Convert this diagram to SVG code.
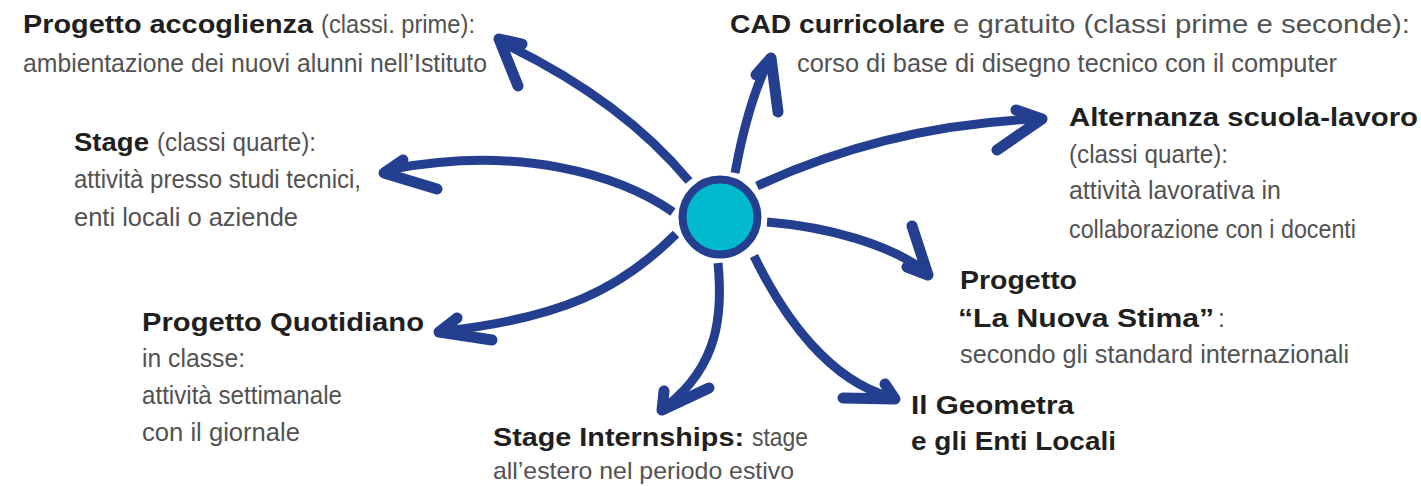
<svg xmlns="http://www.w3.org/2000/svg" width="1421" height="486" viewBox="0 0 1421 486">
<style>
.b{font-family:"Liberation Sans",Arial,sans-serif;font-weight:bold;font-size:26px;fill:#1f1f1f}
.r{font-family:"Liberation Sans",Arial,sans-serif;font-size:25px;fill:#525252}
.shaft{fill:none;stroke:#243f8f;stroke-width:9;stroke-linecap:butt}
.head{fill:none;stroke:#243f8f;stroke-width:11;stroke-linecap:round;stroke-linejoin:round}
</style>
<rect width="1421" height="486" fill="#ffffff"/>
<g id="connectors">
<path class="shaft" d="M689,181 C655,140 600,90 505,44"/>
<path class="head" d="M522,44 L499,39 L518,86"/>
<path class="shaft" d="M673,212 C620,175 520,145 393,169"/>
<path class="head" d="M403,160 L384,173 L437,189"/>
<path class="shaft" d="M735,173 C742,135 752,95 768,62"/>
<path class="head" d="M756,75 L771,58 L778,112"/>
<path class="shaft" d="M757,186 C830,152 920,124 1036,119"/>
<path class="head" d="M1016,110 L1042,119 L997,150"/>
<path class="shaft" d="M767,222 C830,227 890,245 925,271"/>
<path class="head" d="M912,226 L928,275 L907,267"/>
<path class="shaft" d="M754,256 C785,320 830,380 890,397"/>
<path class="head" d="M885,384 L895,399 L843,398"/>
<path class="shaft" d="M718,263 C723,315 718,365 668,405"/>
<path class="head" d="M664,391 L662,410 L709,388"/>
<path class="shaft" d="M676,234 C620,290 560,318 445,331"/>
<path class="head" d="M457,318 L439,332 L492,340"/>
</g>
<g id="center">
<circle cx="720" cy="217" r="37.5" fill="#00b9cc" stroke="#243f8f" stroke-width="8"/>
</g>
<g id="node-accoglienza">
<text class="b" x="23" y="33" textLength="290" lengthAdjust="spacingAndGlyphs">Progetto accoglienza</text>
<text class="r" x="321" y="33" textLength="154" lengthAdjust="spacingAndGlyphs">(classi. prime):</text>
<text class="r" x="23" y="72" textLength="464" lengthAdjust="spacingAndGlyphs">ambientazione dei nuovi alunni nell’Istituto</text>
</g>
<g id="node-cad">
<text class="b" x="730" y="33" textLength="215" lengthAdjust="spacingAndGlyphs">CAD curricolare</text>
<text class="r" x="953" y="33" textLength="457" lengthAdjust="spacingAndGlyphs">e gratuito (classi prime e seconde):</text>
<text class="r" x="797" y="72" textLength="540" lengthAdjust="spacingAndGlyphs">corso di base di disegno tecnico con il computer</text>
</g>
<g id="node-alternanza">
<text class="b" x="1069" y="126" textLength="349" lengthAdjust="spacingAndGlyphs">Alternanza scuola-lavoro</text>
<text class="r" x="1069" y="163" textLength="159" lengthAdjust="spacingAndGlyphs">(classi quarte):</text>
<text class="r" x="1069" y="199" textLength="212" lengthAdjust="spacingAndGlyphs">attività lavorativa in</text>
<text class="r" x="1069" y="238" textLength="287" lengthAdjust="spacingAndGlyphs">collaborazione con i docenti</text>
</g>
<g id="node-stage">
<text class="b" x="74" y="151" textLength="75" lengthAdjust="spacingAndGlyphs">Stage</text>
<text class="r" x="157" y="151" textLength="159" lengthAdjust="spacingAndGlyphs">(classi quarte):</text>
<text class="r" x="74" y="188" textLength="287" lengthAdjust="spacingAndGlyphs">attività presso studi tecnici,</text>
<text class="r" x="74" y="226" textLength="224" lengthAdjust="spacingAndGlyphs">enti locali o aziende</text>
</g>
<g id="node-nuova-stima">
<text class="b" x="960" y="289" textLength="117" lengthAdjust="spacingAndGlyphs">Progetto</text>
<text class="b" x="958" y="327" textLength="256" lengthAdjust="spacingAndGlyphs">“La Nuova Stima”</text>
<text class="r" x="1218" y="327">:</text>
<text class="r" x="960" y="363" textLength="389" lengthAdjust="spacingAndGlyphs">secondo gli standard internazionali</text>
</g>
<g id="node-quotidiano">
<text class="b" x="142" y="331" textLength="282" lengthAdjust="spacingAndGlyphs">Progetto Quotidiano</text>
<text class="r" x="142" y="367" textLength="103" lengthAdjust="spacingAndGlyphs">in classe:</text>
<text class="r" x="142" y="404" textLength="200" lengthAdjust="spacingAndGlyphs">attività settimanale</text>
<text class="r" x="142" y="441" textLength="158" lengthAdjust="spacingAndGlyphs">con il giornale</text>
</g>
<g id="node-geometra">
<text class="b" x="911" y="414" textLength="163" lengthAdjust="spacingAndGlyphs">Il Geometra</text>
<text class="b" x="911" y="450" textLength="205" lengthAdjust="spacingAndGlyphs">e gli Enti Locali</text>
</g>
<g id="node-internships">
<text class="b" x="493" y="446" textLength="251" lengthAdjust="spacingAndGlyphs">Stage Internships:</text>
<text class="r" x="752" y="446" textLength="56" lengthAdjust="spacingAndGlyphs">stage</text>
<text class="r" x="493" y="479" textLength="301" lengthAdjust="spacingAndGlyphs" style="font-size:24px">all’estero nel periodo estivo</text>
</g>
</svg>
